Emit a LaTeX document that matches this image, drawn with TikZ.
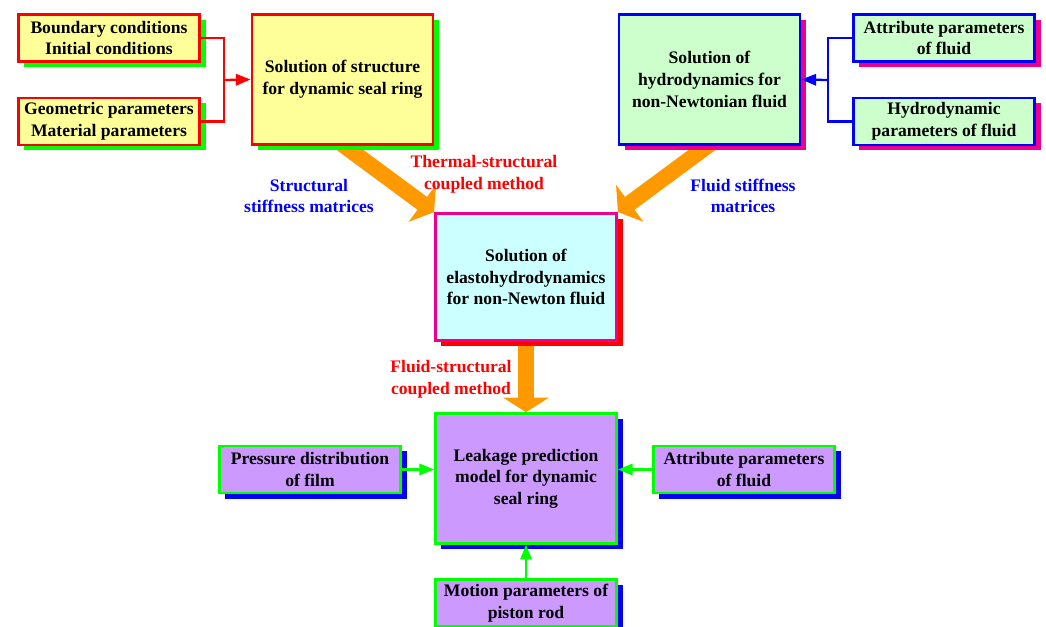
\documentclass[tikz,border=0pt]{standalone}
\usepackage{fontspec}
\setmainfont{Liberation Serif}
\usetikzlibrary{arrows.meta,shadows}
\definecolor{paleyellow}{HTML}{FFFF99}
\definecolor{palegreen}{HTML}{CCFFCC}
\definecolor{palecyan}{HTML}{CCFFFF}
\definecolor{lilac}{HTML}{CC99FF}
\definecolor{floworange}{HTML}{FF9900}
\pgfdeclarelayer{back}
\pgfsetlayers{back,main}

\begin{document}
\begin{tikzpicture}[x=0.75pt,y=-0.75pt,
  font=\fontsize{13.2}{16.2}\selectfont\bfseries,
  box/.style={draw=#1,line width=1.9pt,align=center,inner sep=2pt},
  small/.style={minimum width=136pt,minimum height=35.5pt},
  big/.style={minimum width=136pt,minimum height=97.5pt},
  shade/.style={drop shadow={shadow xshift=4.5pt,shadow yshift=-4pt,fill=#1,opacity=1}},
  link/.style={line width=1.7pt,-{Triangle[length=11pt,width=8.5pt]}},
  flow/.style={draw=floworange,line width=12pt,-{Triangle[length=11pt,width=34pt]}},
  tag/.style={align=center,text=#1}]
\clip (0,0) rectangle (1046,627);

\node[box=red,fill=paleyellow,small,shade=green] (bc) at (109,38) {Boundary conditions\\Initial conditions};
\node[box=red,fill=paleyellow,small,shade=green] (gm) at (109,121.5) {Geometric parameters\\Material parameters};
\node[box=red,fill=paleyellow,big,shade=green] (ss) at (342.5,79.5) {Solution of structure\\for dynamic seal ring};

\node[box=blue,fill=palegreen,big,shade=magenta] (sh) at (709.5,79.5) {Solution of\\hydrodynamics for\\non-Newtonian fluid};
\node[box=blue,fill=palegreen,small,shade=magenta] (ap) at (944,38) {Attribute parameters\\of fluid};
\node[box=blue,fill=palegreen,small,shade=magenta] (hp) at (944,121.5) {Hydrodynamic\\parameters of fluid};

\node[box=magenta,fill=palecyan,minimum width=136pt,minimum height=95.5pt,shade=red] (eh) at (526,277) {Solution of\\elastohydrodynamics\\for non-Newton fluid};

\node[box=green,fill=lilac,big,shade=blue] (lp) at (526,478.5) {Leakage prediction\\model for dynamic\\seal ring};
\node[box=green,fill=lilac,small,shade=blue] (pd) at (310,469.5) {Pressure distribution\\of film};
\node[box=green,fill=lilac,small,shade=blue] (af) at (744,469.5) {Attribute parameters\\of fluid};
\node[box=green,fill=lilac,small,shade=blue] (mp) at (526,603) {Motion parameters of\\piston rod};

\node[tag=red] (tsc) at (484,174) {Thermal-structural\\coupled method};
\node[tag=blue] (ssm) at (309,196) {Structural\\stiffness matrices};
\node[tag=blue] (fsm) at (743,196) {Fluid stiffness\\matrices};
\node[tag=red] (fsc) at (451,379) {Fluid-structural\\coupled method};

\coordinate (rj) at (224,80);
\coordinate (bj) at (828,80);
\draw[red,line width=1.7pt] (bc.east) -| (rj) |- (gm.east);
\draw[red,link] (rj) -- (ss.west);
\draw[blue,line width=1.7pt] (ap.west) -| (bj) |- (hp.west);
\draw[blue,link] (bj) -- (sh.east);
\draw[green,link] (pd.east) -- (pd.east -| lp.west);
\draw[green,link] (af.west) -- (af.west -| lp.east);
\draw[green,link] (mp.north) -- (lp.south);

\begin{pgfonlayer}{back}
\coordinate (sa) at (323,130);
\coordinate (ha) at (729,130);
\draw[flow] (sa) -- (eh.north west);
\draw[flow] (ha) -- (eh.north east);
\draw[flow] (eh.south) -- (lp.north);
\end{pgfonlayer}
\end{tikzpicture}
\end{document}
